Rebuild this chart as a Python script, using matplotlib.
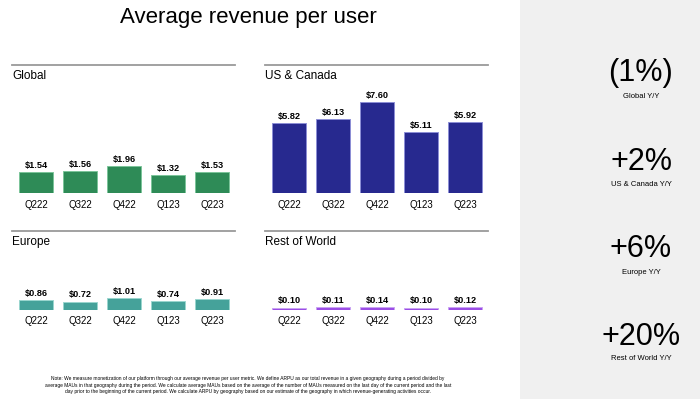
import matplotlib.pyplot as plt
from matplotlib.patches import Rectangle
from matplotlib.lines import Line2D

quarters = ['Q222', 'Q322', 'Q422', 'Q123', 'Q223']
global_arpu = [1.54, 1.56, 1.96, 1.32, 1.53]
us_canada_arpu = [5.82, 6.13, 7.60, 5.11, 5.92]
europe_arpu = [0.86, 0.72, 1.01, 0.74, 0.91]
row_arpu = [0.10, 0.11, 0.14, 0.10, 0.12]

yoy_values = ['(1%)', '+2%', '+6%', '+20%']
yoy_labels = ['Global Y/Y', 'US & Canada Y/Y', 'Europe Y/Y', 'Rest of World Y/Y']

note = ("Note: We measure monetization of our platform through our average revenue per user metric. "
        "We define ARPU as our total revenue in a given geography during a period divided by\n"
        "average MAUs in that geography during the period. We calculate average MAUs based on the average "
        "of the number of MAUs measured on the last day of the current period and the last\n"
        "day prior to the beginning of the current period. We calculate ARPU by geography based on our "
        "estimate of the geography in which revenue-generating activities occur.")

plt.rcParams['font.family'] = ['Liberation Sans', 'DejaVu Sans']

W, H = 700, 399
fig = plt.figure(figsize=(7, 3.99), dpi=100)
fig.patch.set_facecolor('white')


def fx(x):
    return x / W


def fy(y):
    # pixel y measured from top
    return 1 - y / H


# grey side panel
fig.patches.append(Rectangle((fx(520), 0), fx(180), 1, transform=fig.transFigure,
                             facecolor='#f0f0f0', edgecolor='none', zorder=0))

fig.text(fx(248.5), fy(23), 'Average revenue per user', ha='center', va='baseline', fontsize=16)

# name, values, bar colour, edge colour, left px, line y px, bar bottom px, px per dollar
panels = [
    ('Global', global_arpu, '#2e8b57', '#7cc49a', 12, 65, 192.7, 13.6),
    ('US & Canada', us_canada_arpu, '#27298f', '#8c8ed6', 265, 65, 192.7, 11.95),
    ('Europe', europe_arpu, '#45a29a', '#9ad6cf', 12, 231, 309.5, 11.0),
    ('Rest of World', row_arpu, '#9b4de6', '#c9a3f2', 265, 231, 309.5, 20.0),
]

for name, vals, col, edge, x0, ly, by, scale in panels:
    fig.add_artist(Line2D([fx(x0), fx(x0 + 223)], [fy(ly), fy(ly)], color='#9a9a9a', lw=1.3))
    fig.text(fx(x0), fy(ly + 11), name, ha='left', va='center', fontsize=8.5)

    top = ly + 20
    ax = fig.add_axes([fx(x0 + 2), fy(by), fx(220), (by - top) / H])
    ax.set_facecolor('none')
    bars = ax.bar(range(len(quarters)), vals, width=0.773, color=col, edgecolor=edge, linewidth=0.7)
    ax.set_xlim(-0.5, len(quarters) - 0.5)
    ax.set_ylim(0, (by - top) / scale)
    ax.set_xticks(range(len(quarters)))
    ax.set_xticklabels(quarters, fontsize=7)
    ax.tick_params(axis='x', length=0, pad=5)
    ax.set_yticks([])
    for s in ax.spines.values():
        s.set_visible(False)
    for b, v in zip(bars, vals):
        ax.annotate('$%.2f' % v, (b.get_x() + b.get_width() / 2, v), xytext=(0, 1.5),
                    textcoords='offset points', ha='center', va='bottom',
                    fontsize=6.6, fontweight='bold')

# year over year figures on the right
big_y = [73, 162, 249, 337]
small_y = [97, 184, 272, 359]
for val, lab, yb, ys in zip(yoy_values, yoy_labels, big_y, small_y):
    fig.text(fx(641), fy(yb), val, ha='center', va='center', fontsize=22)
    fig.text(fx(641), fy(ys), lab, ha='center', va='center', fontsize=5.5)

fig.text(fx(248), fy(385), note, ha='center', va='center', fontsize=3.5, linespacing=1.35)

fig.savefig('out.png', dpi=100)
